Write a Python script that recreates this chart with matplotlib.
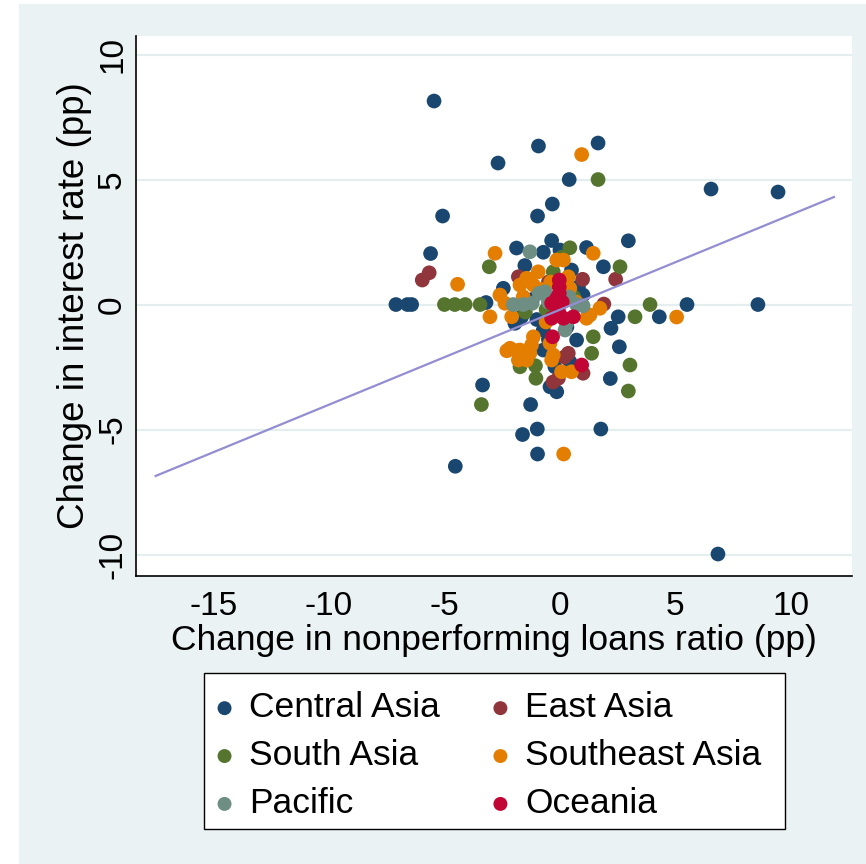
import matplotlib
matplotlib.use("Agg")
import matplotlib.pyplot as plt
from matplotlib.patches import Rectangle
import numpy as np

plt.rcParams['font.family'] = ['Liberation Sans', 'DejaVu Sans']
plt.rcParams['axes.unicode_minus'] = False

# ---- data (change in NPL ratio, change in interest rate) ----
central_x = [-5.45, -2.68, -0.93, 1.65, 0.40, -0.33, -5.08, -0.97, 6.54, 9.44,
             -5.60, -0.36, 2.96, -1.88, 1.15, -0.72, 0.00, 1.88, -1.52, -7.10,
             -6.60, -6.42, 5.50, 8.57, 4.30, 2.52, 2.21, 2.57, 2.18, -3.20,
             -3.35, -1.27, -0.98, -1.62, 1.77, -0.97, -4.53, 6.84, -0.43, -0.14,
             -0.72, -0.72, 0.72, 0.43, 1.00, -1.66, -1.95, 0.50, -2.45, -0.22,
             -1.00, -1.20, 0.30, -0.50, 0.80, -1.40]
central_y = [8.14, 5.66, 6.34, 6.46, 5.00, 4.02, 3.54, 3.54, 4.62, 4.50,
             2.04, 2.56, 2.55, 2.26, 2.28, 2.09, 2.18, 1.51, 1.56, 0.00,
             0.00, 0.00, 0.00, 0.00, -0.49, -0.49, -0.95, -1.69, -2.96, 0.08,
             -3.22, -4.00, -4.98, -5.20, -4.98, -5.98, -6.47, -9.98, -3.29, -3.49,
             -1.02, -1.82, -1.42, -2.29, 0.38, -0.49, -0.75, 1.38, 0.65, -2.49,
             -0.60, 0.20, -0.90, -1.40, 0.70, -2.10]

east_x = [-5.96, -5.66, 0.98, 2.41, 1.90, -1.80, 0.36, -0.07, 1.00, -0.30, 0.20, -0.50]
east_y = [0.98, 1.27, 1.01, 1.01, 0.02, 1.11, -1.95, -2.95, -2.75, -3.10, -2.10, 0.90]

south_x = [1.65, -5.00, -4.55, -4.10, -3.46, -3.06, -3.40, 0.43, 2.60, 3.90,
           3.25, 1.44, 1.37, 3.03, 2.96, -1.04, -1.06, -1.73, -0.29, -0.60,
           0.10, -1.50, 0.60]
south_y = [5.00, 0.00, 0.00, 0.00, 0.00, 1.51, -4.00, 2.27, 1.51, 0.00,
           -0.49, -1.29, -1.95, -2.42, -3.46, -2.95, -2.45, -2.49, 1.31, -0.20,
           1.90, -0.30, 0.30]

seasia_x = [0.94, -2.81, 1.44, -4.43, -3.03, -0.14, 0.15, -0.94, -1.44, -1.73,
            -2.60, -2.38, -1.59, -2.09, -1.15, 0.43, 0.36, 1.30, 1.73, 1.15,
            -1.15, -1.23, -2.16, -1.73, -1.30, -1.80, -1.44, -0.43, -0.29, -0.36,
            0.07, 0.50, 0.16, 5.05, -0.80, -0.40, 0.70, -0.60, -2.30, -1.88]
seasia_y = [6.00, 2.05, 2.05, 0.81, -0.49, 1.78, 1.78, 1.31, 1.05, 0.78,
            0.38, 0.05, 0.31, -0.49, 0.78, 0.65, 1.11, -0.42, -0.15, -0.55,
            -1.29, -1.62, -1.75, -1.82, -1.95, -2.22, -2.22, -1.55, -2.02, -2.22,
            -2.69, -2.69, -5.98, -0.50, 0.60, 0.90, 0.10, -0.70, -1.85, -1.85]

pacific_x = [-1.30, -2.02, -1.59, -0.65, -0.50, 0.72, 1.00, 0.22, 0.29, -1.20, 0.40, -0.90]
pacific_y = [2.11, 0.00, 0.00, 0.51, 0.10, 0.00, -0.05, -1.02, -0.75, 0.05, 0.30, 0.45]

oceania_x = [-0.03, -0.03, -0.03, -0.36, -0.14, -0.03, -0.36, 0.15, 0.58, -0.32, 0.94, 0.10]
oceania_y = [0.98, 0.70, 0.45, 0.05, 0.25, -0.35, -0.55, -0.55, -0.49, -1.29, -2.42, 0.10]

# linear fit shown on the chart
fit_slope = 0.380
fit_intercept = -0.207
fit_xmin, fit_xmax = -17.5, 11.86

groups = [
    ("Central Asia", central_x, central_y, "#1a476f"),
    ("East Asia", east_x, east_y, "#90353b"),
    ("South Asia", south_x, south_y, "#55752f"),
    ("Southeast Asia", seasia_x, seasia_y, "#e37e00"),
    ("Pacific", pacific_x, pacific_y, "#6e8e84"),
    ("Oceania", oceania_x, oceania_y, "#c10534"),
]

fig = plt.figure(figsize=(8.66, 8.64), dpi=100, facecolor="white")
fig.patches.append(Rectangle((19 / 866, 0), 1 - 19 / 866, 1 - 4 / 864,
                             transform=fig.transFigure, facecolor="#eaf2f3",
                             edgecolor="none", zorder=-10))
# legend box (drawn separately so it can be wider than the entries)
fig.patches.append(Rectangle((204 / 866, 1 - 829 / 864), 581 / 866, 156 / 864,
                             transform=fig.transFigure, facecolor="white",
                             edgecolor="black", lw=1.0, zorder=1))

ax = fig.add_axes([0.1576, 0.3333, 0.8262, 0.625])
ax.set_facecolor("white")

handles = {}
for name, xs, ys, col in groups:
    h = ax.scatter(xs, ys, s=112, color=col, edgecolors="none", zorder=3, label=name)
    handles[name] = h

fx = np.array([fit_xmin, fit_xmax])
ax.plot(fx, fit_intercept + fit_slope * fx, color="#938dd2", lw=1.6, zorder=4)

ax.set_xlim(-18.33, 12.64)
ax.set_ylim(-10.86, 10.74)
ax.set_xticks([-15, -10, -5, 0, 5, 10])
ax.set_yticks([-10, -5, 0, 5, 10])
ax.set_yticklabels(["-10", "-5", "0", "5", "10"], rotation=90, va="center")
ax.tick_params(length=0, labelsize=24)
ax.tick_params(axis="x", pad=11)
ax.tick_params(axis="y", pad=6)
ax.grid(axis="y", color="#e4eeef", lw=1.6, zorder=0)
ax.set_axisbelow(True)

for side in ["top", "right"]:
    ax.spines[side].set_visible(False)
for side in ["left", "bottom"]:
    ax.spines[side].set_color("black")
    ax.spines[side].set_linewidth(1.2)

ax.set_xlabel("Change in nonperforming loans ratio (pp)", fontsize=25.5, labelpad=1)
ax.set_ylabel("Change in interest rate (pp)", fontsize=26.5, labelpad=4)

order = ["Central Asia", "South Asia", "Pacific", "East Asia", "Southeast Asia", "Oceania"]
leg = fig.legend([handles[n] for n in order], order, ncol=2,
                 loc="upper left", borderaxespad=0,
                 bbox_to_anchor=(204 / 866, 1 - 678 / 864),
                 fontsize=25.5, frameon=False, markerscale=0.95,
                 handlelength=0.4, handletextpad=0.5, labelspacing=0.42,
                 borderpad=0.38, columnspacing=1.5)
leg.set_zorder(5)

fig.savefig("out.png", dpi=100, facecolor=fig.get_facecolor())
